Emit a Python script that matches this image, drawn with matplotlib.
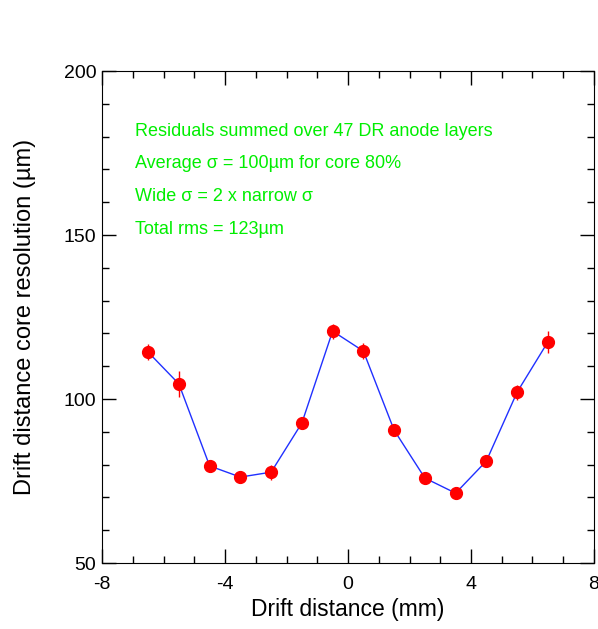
import matplotlib
matplotlib.use("Agg")
import matplotlib.pyplot as plt
from matplotlib.ticker import MultipleLocator

plt.rcParams['font.family'] = ['Liberation Sans', 'DejaVu Sans']
plt.rcParams['axes.unicode_minus'] = False

# 数据
drift = [-6.5, -5.5, -4.5, -3.5, -2.5, -1.5, -0.5, 0.5, 1.5, 2.5, 3.5, 4.5, 5.5, 6.5]
resolution = [114.3, 104.6, 79.6, 76.2, 77.7, 92.7, 120.7, 114.6, 90.5, 75.9, 71.3, 81.1, 102.1, 117.4]
errors = [2.5, 4.0, 1.5, 1.5, 2.3, 1.5, 2.3, 2.4, 1.5, 1.5, 1.5, 1.5, 2.3, 3.4]
notes = ["Residuals summed over 47 DR anode layers",
         "Average \u03c3 = 100\u00b5m for core 80%",
         "Wide \u03c3 = 2 x narrow \u03c3",
         "Total rms = 123\u00b5m"]

fig = plt.figure(figsize=(5.98, 6.29), dpi=100)
ax = fig.add_axes([0.1706, 0.1049, 0.8227, 0.7822])

ax.plot(drift, resolution, color='#2030ff', lw=1, zorder=2)
ax.errorbar(drift, resolution, yerr=errors, fmt='o', color='red', ms=8.5,
            elinewidth=1, capsize=0, zorder=3)

ax.set_xlim(-8, 8)
ax.set_ylim(50, 200)
ax.xaxis.set_major_locator(MultipleLocator(4))
ax.xaxis.set_minor_locator(MultipleLocator(1))
ax.yaxis.set_major_locator(MultipleLocator(50))
ax.yaxis.set_minor_locator(MultipleLocator(10))
ax.tick_params(which='both', direction='in', top=True, right=True, labelsize=14, width=1)
ax.tick_params(which='major', length=10)
ax.tick_params(which='minor', length=5)
ax.tick_params(axis='x', pad=9)
ax.tick_params(axis='y', pad=4)

ax.set_xlabel("Drift distance (mm)", fontsize=16.5, labelpad=4)
ax.set_ylabel("Drift distance core resolution (\u00b5m)", fontsize=17, labelpad=20)

# 注释文字
for i, t in enumerate(notes):
    ax.text(0.068, 0.878 - i * 0.0665, t, transform=ax.transAxes, color='#00ee00',
            fontsize=13, va='center', ha='left')

fig.savefig("out.png", dpi=100)
